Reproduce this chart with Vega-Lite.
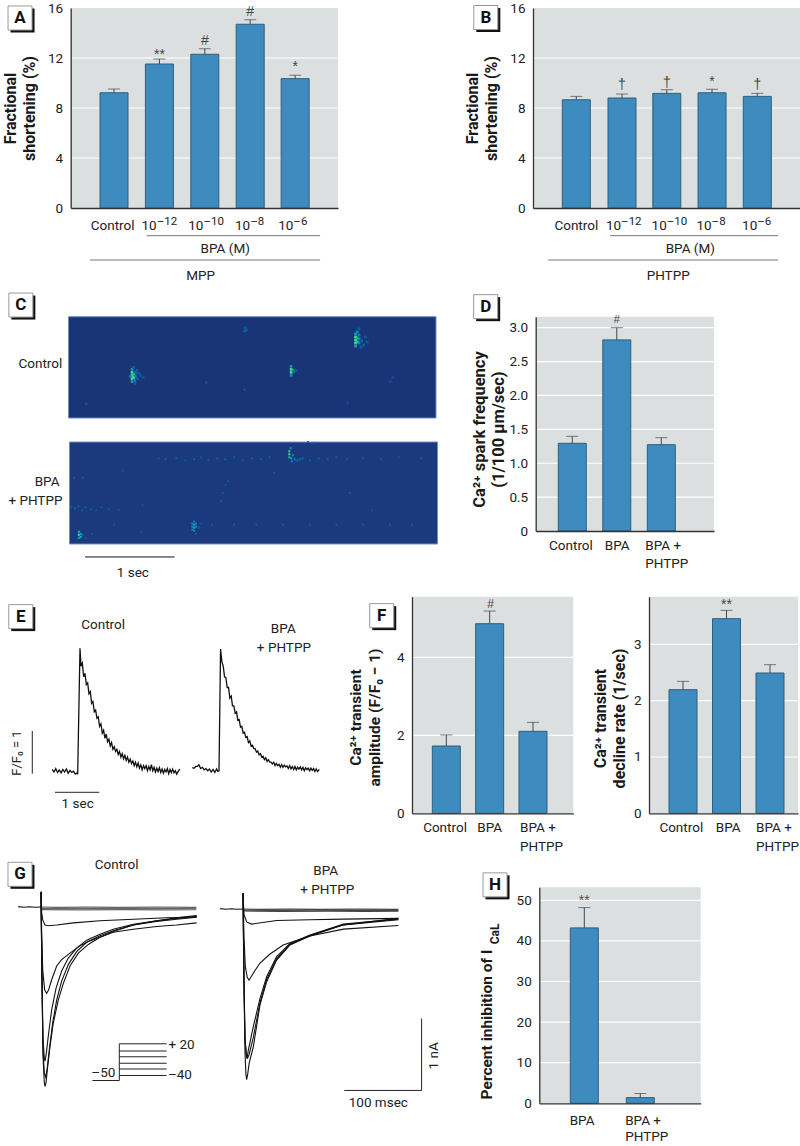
{"$schema":"https://vega.github.io/schema/vega-lite/v6.json","width":800,"height":1146,"padding":0,"autosize":"none","background":"white",
"config":{"view":{"stroke":null},"axis":{"grid":false,"ticks":false,"domainColor":"#333","domainWidth":1.3,"labelFont":"Roboto","labelFontSize":13.5,"labelColor":"#222","labelPadding":8,"titleFont":"Roboto","titleFontWeight":"bold","titleFontSize":16,"titleColor":"#1a1a1a","titleLineHeight":19,"titleAngle":270,"titleBaseline":"bottom","titleAlign":"center"},"text":{"font":"Roboto","fontSize":13.5,"color":"#222","baseline":"middle"}},
"resolve":{"scale":{"x":"independent","y":"independent","color":"independent"}},
"layer":[
{"encoding":{"x":{"field":"x","type":"quantitative","scale":{"domain":[0.046,5.934],"range":[70.7,338],"nice":false,"zero":false,"padding":0},"axis":{"orient":"bottom","offset":-938,"labels":false,"title":null,"zindex":1}},"y":{"field":"y","type":"quantitative","stack":null,"scale":{"domain":[0,16],"range":[208,8],"nice":false},"axis":{"orient":"left","offset":-70.7,"values":[0,4,8,12,16],"title":["Fractional","shortening (%)"],"titleX":-52.5,"titleY":108,"zindex":1}}},
"layer":[
{"data":{"values":[{"x":0.046,"x2":5.934,"y":0,"y2":16}]},"mark":{"type":"rect","fill":"#dcdfe0"},"encoding":{"x2":{"field":"x2"},"y2":{"field":"y2"}}},
{"data":{"values":[{"x":0.046,"x2":5.934,"y":4},{"x":0.046,"x2":5.934,"y":8},{"x":0.046,"x2":5.934,"y":12}]},"mark":{"type":"rule","color":"#fff","strokeWidth":1.2},"encoding":{"x2":{"field":"x2"}}},
{"data":{"values":[{"x":1,"y":9.22},{"x":2,"y":11.52},{"x":3,"y":12.3},{"x":4,"y":14.7},{"x":4.99,"y":10.35}]},"mark":{"type":"bar","size":28,"orient":"vertical","fill":"#3d8bbf","stroke":"#2f5f7c","strokeWidth":1}},
{"data":{"values":[{"x":1,"y":9.52,"y2":9.22},{"x":2,"y":11.92,"y2":11.52},{"x":3,"y":12.74,"y2":12.3},{"x":4,"y":15.06,"y2":14.7},{"x":4.99,"y":10.62,"y2":10.35}]},"layer":[{"mark":{"type":"rule","color":"#445","strokeWidth":1},"encoding":{"y2":{"field":"y2"}}},{"mark":{"type":"tick","orient":"horizontal","size":12,"thickness":1,"color":"#445"}}]},
{"data":{"values":[{"x":2,"y":12.4,"t":"**"},{"x":3,"y":13.5,"t":"#"},{"x":4,"y":15.8,"t":"#"},{"x":4.99,"y":11.4,"t":"*"}]},"mark":{"type":"text","font":"Liberation Sans","fontSize":14,"dy":1.5,"color":"#444"},"encoding":{"text":{"field":"t"}}},
{"data":{"values":[{"x":0.97,"y":-1.44,"t":"Control"},{"x":3.45,"y":-3.3,"t":"BPA (M)"},{"x":2.91,"y":-5.41,"t":"MPP"}]},"mark":{"type":"text"},"encoding":{"text":{"field":"t"}}},
{"data":{"values":[{"x":1.94,"y":-1.44,"t":"10"},{"x":2.97,"y":-1.44,"t":"10"},{"x":4.0,"y":-1.44,"t":"10"},{"x":4.95,"y":-1.44,"t":"10"}]},"mark":{"type":"text","align":"right"},"encoding":{"text":{"field":"t"}}},
{"data":{"values":[{"x":1.94,"y":-1.44,"t":"–12"},{"x":2.97,"y":-1.44,"t":"–10"},{"x":4.0,"y":-1.44,"t":"–8"},{"x":4.95,"y":-1.44,"t":"–6"}]},"mark":{"type":"text","align":"left","fontSize":11.5,"dy":-4},"encoding":{"text":{"field":"t"}}},
{"data":{"values":[{"x":1.72,"x2":5.54,"y":-2.216},{"x":0.47,"x2":5.54,"y":-4.16}]},"mark":{"type":"rule","color":"#777","strokeWidth":1},"encoding":{"x2":{"field":"x2"}}},
{"data":{"values":[{"x":-1.07,"y":15.2,"t":"A"}]},"layer":[{"mark":{"type":"point","shape":"square","size":576,"filled":true,"fill":"#111","opacity":1,"xOffset":2.5,"yOffset":2.5}},{"mark":{"type":"point","shape":"square","size":576,"filled":true,"fill":"#fff","stroke":"#999","strokeWidth":1,"opacity":1}},{"mark":{"type":"text","fontWeight":"bold","fontSize":17,"color":"#111"},"encoding":{"text":{"field":"t"}}}]}
]},
{"encoding":{"x":{"field":"x","type":"quantitative","scale":{"domain":[0.043,5.944],"range":[533,800],"nice":false,"zero":false,"padding":0},"axis":{"orient":"bottom","offset":-938,"labels":false,"title":null,"zindex":1}},"y":{"field":"y","type":"quantitative","stack":null,"scale":{"domain":[0,16],"range":[208,8],"nice":false},"axis":{"orient":"left","offset":-533,"values":[0,4,8,12,16],"title":["Fractional","shortening (%)"],"titleX":-52.5,"titleY":108,"zindex":1}}},
"layer":[
{"data":{"values":[{"x":0.043,"x2":5.944,"y":0,"y2":16}]},"mark":{"type":"rect","fill":"#dcdfe0"},"encoding":{"x2":{"field":"x2"},"y2":{"field":"y2"}}},
{"data":{"values":[{"x":0.043,"x2":5.944,"y":4},{"x":0.043,"x2":5.944,"y":8},{"x":0.043,"x2":5.944,"y":12}]},"mark":{"type":"rule","color":"#fff","strokeWidth":1.2},"encoding":{"x2":{"field":"x2"}}},
{"data":{"values":[{"x":1,"y":8.66},{"x":2.01,"y":8.8},{"x":3,"y":9.17},{"x":4,"y":9.22},{"x":5,"y":8.93}]},"mark":{"type":"bar","size":28,"orient":"vertical","fill":"#3d8bbf","stroke":"#2f5f7c","strokeWidth":1}},
{"data":{"values":[{"x":1,"y":8.93,"y2":8.66},{"x":2.01,"y":9.12,"y2":8.8},{"x":3,"y":9.46,"y2":9.17},{"x":4,"y":9.5,"y2":9.22},{"x":5,"y":9.17,"y2":8.93}]},"layer":[{"mark":{"type":"rule","color":"#445","strokeWidth":1},"encoding":{"y2":{"field":"y2"}}},{"mark":{"type":"tick","orient":"horizontal","size":12,"thickness":1,"color":"#445"}}]},
{"data":{"values":[{"x":2.01,"y":10,"t":"†"},{"x":3,"y":10.1,"t":"†"},{"x":4,"y":10.2,"t":"*"},{"x":5,"y":10,"t":"†"}]},"mark":{"type":"text","font":"Liberation Sans","fontSize":14,"dy":1.5,"color":"#444"},"encoding":{"text":{"field":"t"}}},
{"data":{"values":[{"x":1,"y":-1.44,"t":"Control"},{"x":3.52,"y":-3.3,"t":"BPA (M)"},{"x":3.03,"y":-5.41,"t":"PHTPP"}]},"mark":{"type":"text"},"encoding":{"text":{"field":"t"}}},
{"data":{"values":[{"x":1.99,"y":-1.44,"t":"10"},{"x":3.0,"y":-1.44,"t":"10"},{"x":3.99,"y":-1.44,"t":"10"},{"x":5.0,"y":-1.44,"t":"10"}]},"mark":{"type":"text","align":"right"},"encoding":{"text":{"field":"t"}}},
{"data":{"values":[{"x":1.99,"y":-1.44,"t":"–12"},{"x":3.0,"y":-1.44,"t":"–10"},{"x":3.99,"y":-1.44,"t":"–8"},{"x":5.0,"y":-1.44,"t":"–6"}]},"mark":{"type":"text","align":"left","fontSize":11.5,"dy":-4},"encoding":{"text":{"field":"t"}}},
{"data":{"values":[{"x":1.745,"x2":5.46,"y":-2.216},{"x":0.38,"x2":5.46,"y":-4.16}]},"mark":{"type":"rule","color":"#777","strokeWidth":1},"encoding":{"x2":{"field":"x2"}}},
{"data":{"values":[{"x":-1.0,"y":15.24,"t":"B"}]},"layer":[{"mark":{"type":"point","shape":"square","size":576,"filled":true,"fill":"#111","opacity":1,"xOffset":2.5,"yOffset":2.5}},{"mark":{"type":"point","shape":"square","size":576,"filled":true,"fill":"#fff","stroke":"#999","strokeWidth":1,"opacity":1}},{"mark":{"type":"text","fontWeight":"bold","fontSize":17,"color":"#111"},"encoding":{"text":{"field":"t"}}}]}
]},
{"encoding":{"x":{"field":"x","type":"quantitative","scale":{"domain":[0,4.135],"range":[68.5,436],"nice":false,"zero":false},"axis":null},"y":{"field":"y","type":"quantitative","stack":null,"scale":{"domain":[0,1],"range":[418,316.7],"nice":false},"axis":null}},
"layer":[
{"data":{"values":[{"x":0,"x2":4.135,"y":0,"y2":1}]},"mark":{"type":"rect","fill":"#1a3577","stroke":"#6f8fbf","strokeWidth":1},"encoding":{"x2":{"field":"x2"},"y2":{"field":"y2"}}},
{"data":{"values":[{"x":0.715,"y":0.36,"v":0.55},{"x":0.715,"y":0.39,"v":1},{"x":0.715,"y":0.42,"v":1},{"x":0.715,"y":0.45,"v":1},{"x":0.715,"y":0.48,"v":0.55},{"x":0.735,"y":0.4,"v":1},{"x":0.735,"y":0.43,"v":0.85},{"x":0.7,"y":0.41,"v":0.5},{"x":0.745,"y":0.37,"v":0.4},{"x":0.755,"y":0.41,"v":0.45},{"x":0.755,"y":0.45,"v":0.35},{"x":0.775,"y":0.39,"v":0.22},{"x":0.79,"y":0.44,"v":0.22},{"x":0.77,"y":0.47,"v":0.2},{"x":0.81,"y":0.42,"v":0.15},{"x":0.75,"y":0.34,"v":0.2},{"x":0.73,"y":0.5,"v":0.25},{"x":0.84,"y":0.4,"v":0.12},{"x":2.505,"y":0.42,"v":0.5},{"x":2.505,"y":0.45,"v":1},{"x":2.505,"y":0.48,"v":1},{"x":2.505,"y":0.51,"v":0.5},{"x":2.52,"y":0.47,"v":0.9},{"x":2.535,"y":0.46,"v":0.35},{"x":2.56,"y":0.47,"v":0.15},{"x":3.23,"y":0.71,"v":0.55},{"x":3.23,"y":0.74,"v":1},{"x":3.23,"y":0.77,"v":1},{"x":3.23,"y":0.8,"v":1},{"x":3.23,"y":0.83,"v":0.55},{"x":3.25,"y":0.75,"v":0.95},{"x":3.25,"y":0.79,"v":0.85},{"x":3.25,"y":0.85,"v":0.45},{"x":3.27,"y":0.74,"v":0.45},{"x":3.27,"y":0.78,"v":0.45},{"x":3.27,"y":0.82,"v":0.4},{"x":3.3,"y":0.76,"v":0.25},{"x":3.32,"y":0.72,"v":0.2},{"x":3.29,"y":0.7,"v":0.2},{"x":3.34,"y":0.8,"v":0.15},{"x":3.27,"y":0.88,"v":0.2},{"x":3.36,"y":0.75,"v":0.12},{"x":1.985,"y":0.86,"v":0.25},{"x":1.985,"y":0.89,"v":0.18},{"x":2.0,"y":0.87,"v":0.14},{"x":1.98,"y":0.28,"v":0.07},{"x":3.62,"y":0.36,"v":0.06},{"x":3.65,"y":0.4,"v":0.06},{"x":3.14,"y":0.15,"v":0.06},{"x":1.55,"y":0.35,"v":0.05},{"x":0.2,"y":0.14,"v":0.06}]},"mark":{"type":"point","shape":"square","filled":true,"size":7,"opacity":1},"encoding":{"color":{"field":"v","type":"quantitative","legend":null,"scale":{"domain":[0,0.6,1],"range":["#21438c","#2a9cc0","#4fdc7c"]}}}},
{"data":{"values":[{"x":-0.07,"y":0.534,"t":"Control"}]},"mark":{"type":"text","align":"right"},"encoding":{"text":{"field":"t"}}},
{"data":{"values":[{"x":-0.536,"y":1.115,"t":"C"}]},"layer":[{"mark":{"type":"point","shape":"square","size":576,"filled":true,"fill":"#111","opacity":1,"xOffset":2.5,"yOffset":2.5}},{"mark":{"type":"point","shape":"square","size":576,"filled":true,"fill":"#fff","stroke":"#999","strokeWidth":1,"opacity":1}},{"mark":{"type":"text","fontWeight":"bold","fontSize":17,"color":"#111"},"encoding":{"text":{"field":"t"}}}]}
]},
{"encoding":{"x":{"field":"x","type":"quantitative","scale":{"domain":[0,4.135],"range":[69.5,437.5],"nice":false,"zero":false},"axis":null},"y":{"field":"y","type":"quantitative","stack":null,"scale":{"domain":[0,1],"range":[544,442],"nice":false},"axis":null}},
"layer":[
{"data":{"values":[{"x":0,"x2":4.135,"y":0,"y2":1}]},"mark":{"type":"rect","fill":"#1b3a7e","stroke":"#6f8fbf","strokeWidth":1},"encoding":{"x2":{"field":"x2"},"y2":{"field":"y2"}}},
{"data":{"values":[{"x":0.02,"y":0.36,"v":0.2},{"x":0.06,"y":0.35,"v":0.25},{"x":0.1,"y":0.37,"v":0.2},{"x":0.14,"y":0.33,"v":0.18},{"x":0.18,"y":0.36,"v":0.2},{"x":0.24,"y":0.34,"v":0.18},{"x":0.3,"y":0.33,"v":0.15},{"x":0.36,"y":0.36,"v":0.14},{"x":0.44,"y":0.34,"v":0.14},{"x":0.55,"y":0.33,"v":0.12},{"x":0.82,"y":0.38,"v":0.15},{"x":1.0,"y":0.84,"v":0.18},{"x":1.08,"y":0.83,"v":0.22},{"x":1.2,"y":0.84,"v":0.18},{"x":1.3,"y":0.82,"v":0.18},{"x":1.4,"y":0.83,"v":0.22},{"x":1.48,"y":0.85,"v":0.18},{"x":1.56,"y":0.82,"v":0.18},{"x":1.66,"y":0.84,"v":0.22},{"x":1.75,"y":0.83,"v":0.25},{"x":1.85,"y":0.85,"v":0.22},{"x":1.95,"y":0.82,"v":0.22},{"x":2.05,"y":0.84,"v":0.25},{"x":2.15,"y":0.83,"v":0.22},{"x":2.25,"y":0.85,"v":0.22},{"x":2.62,"y":0.84,"v":0.3},{"x":2.7,"y":0.82,"v":0.25},{"x":2.8,"y":0.84,"v":0.22},{"x":2.9,"y":0.83,"v":0.22},{"x":3.0,"y":0.85,"v":0.18},{"x":3.12,"y":0.83,"v":0.18},{"x":3.3,"y":0.84,"v":0.16},{"x":3.5,"y":0.83,"v":0.15},{"x":3.7,"y":0.85,"v":0.15},{"x":3.95,"y":0.84,"v":0.16},{"x":1.75,"y":0.58,"v":0.15},{"x":1.72,"y":0.5,"v":0.13},{"x":1.78,"y":0.62,"v":0.13},{"x":1.7,"y":0.42,"v":0.13},{"x":1.6,"y":0.19,"v":0.15},{"x":1.85,"y":0.19,"v":0.18},{"x":2.1,"y":0.19,"v":0.15},{"x":2.4,"y":0.19,"v":0.17},{"x":2.7,"y":0.19,"v":0.18},{"x":3.0,"y":0.19,"v":0.17},{"x":3.3,"y":0.19,"v":0.17},{"x":3.6,"y":0.19,"v":0.18},{"x":3.85,"y":0.19,"v":0.18},{"x":0.25,"y":0.1,"v":0.13},{"x":0.5,"y":0.19,"v":0.1},{"x":0.8,"y":0.12,"v":0.12},{"x":3.15,"y":0.5,"v":0.1},{"x":3.4,"y":0.33,"v":0.1},{"x":2.3,"y":0.7,"v":0.12},{"x":0.6,"y":0.72,"v":0.1},{"x":0.05,"y":0.65,"v":0.15},{"x":0.15,"y":0.65,"v":0.15},{"x":2.68,"y":1.0,"v":0.25},{"x":2.73,"y":0.99,"v":0.2},{"x":0.105,"y":0.06,"v":0.7},{"x":0.105,"y":0.09,"v":1},{"x":0.105,"y":0.12,"v":0.85},{"x":0.125,"y":0.07,"v":0.85},{"x":0.125,"y":0.1,"v":0.75},{"x":0.145,"y":0.09,"v":0.3},{"x":0.18,"y":0.06,"v":0.18},{"x":1.38,"y":0.14,"v":0.45},{"x":1.38,"y":0.17,"v":0.5},{"x":1.38,"y":0.2,"v":0.45},{"x":1.4,"y":0.13,"v":0.45},{"x":1.4,"y":0.16,"v":0.6},{"x":1.4,"y":0.19,"v":0.6},{"x":1.4,"y":0.22,"v":0.4},{"x":1.42,"y":0.17,"v":0.5},{"x":1.42,"y":0.2,"v":0.5},{"x":1.45,"y":0.16,"v":0.25},{"x":1.42,"y":0.1,"v":0.25},{"x":1.48,"y":0.2,"v":0.18},{"x":2.47,"y":0.85,"v":0.85},{"x":2.47,"y":0.88,"v":1},{"x":2.47,"y":0.91,"v":0.95},{"x":2.485,"y":0.94,"v":0.55},{"x":2.49,"y":0.84,"v":0.65},{"x":2.51,"y":0.87,"v":0.45},{"x":2.5,"y":0.81,"v":0.4},{"x":2.53,"y":0.83,"v":0.4},{"x":2.56,"y":0.82,"v":0.3},{"x":2.59,"y":0.83,"v":0.25}]},"mark":{"type":"point","shape":"square","filled":true,"size":4,"opacity":1},"encoding":{"color":{"field":"v","type":"quantitative","legend":null,"scale":{"domain":[0,0.6,1],"range":["#21438c","#2a9cc0","#4fdc7c"]}}}},
{"data":{"values":[{"x":-0.112,"y":0.611,"t":"BPA"},{"x":-0.079,"y":0.425,"t":"+ PHTPP"}]},"mark":{"type":"text","align":"right"},"encoding":{"text":{"field":"t"}}},
{"data":{"values":[{"x":0.176,"x2":1.18,"y":-0.127}]},"mark":{"type":"rule","color":"#111","strokeWidth":1},"encoding":{"x2":{"field":"x2"}}},
{"data":{"values":[{"x":0.712,"y":-0.287,"t":"1 sec"}]},"mark":{"type":"text"},"encoding":{"text":{"field":"t"}}}
]},
{"encoding":{"x":{"field":"x","type":"quantitative","scale":{"domain":[0.178,4.184],"range":[535.7,714],"nice":false,"zero":false,"padding":0},"axis":{"orient":"bottom","offset":-615,"labels":false,"title":null,"zindex":1}},"y":{"field":"y","type":"quantitative","stack":null,"scale":{"domain":[0,3.162],"range":[531,316.7],"nice":false},"axis":{"orient":"left","offset":-535.7,"values":[0,0.5,1,1.5,2,2.5,3],"labelExpr":"datum.value==0?'0':format(datum.value,'.1f')","title":["Ca²⁺ spark frequency","(1/100 μm/sec)"],"titleFontSize":16.5,"titleX":-48,"titleY":429,"zindex":1}}},
"layer":[
{"data":{"values":[{"x":0.178,"x2":4.184,"y":0,"y2":3.162}]},"mark":{"type":"rect","fill":"#dcdfe0"},"encoding":{"x2":{"field":"x2"},"y2":{"field":"y2"}}},
{"data":{"values":[{"x":0.178,"x2":4.184,"y":0.5},{"x":0.178,"x2":4.184,"y":1},{"x":0.178,"x2":4.184,"y":1.5},{"x":0.178,"x2":4.184,"y":2},{"x":0.178,"x2":4.184,"y":2.5},{"x":0.178,"x2":4.184,"y":3}]},"mark":{"type":"rule","color":"#fff","strokeWidth":1.2},"encoding":{"x2":{"field":"x2"}}},
{"data":{"values":[{"x":1,"y":1.294},{"x":2,"y":2.82},{"x":3,"y":1.274}]},"mark":{"type":"bar","size":28,"orient":"vertical","fill":"#3d8bbf","stroke":"#2f5f7c","strokeWidth":1}},
{"data":{"values":[{"x":1,"y":1.397,"y2":1.294},{"x":2,"y":3.0,"y2":2.82},{"x":3,"y":1.377,"y2":1.274}]},"layer":[{"mark":{"type":"rule","color":"#445","strokeWidth":1},"encoding":{"y2":{"field":"y2"}}},{"mark":{"type":"tick","orient":"horizontal","size":12,"thickness":1,"color":"#445"}}]},
{"data":{"values":[{"x":2,"y":3.114,"t":"#"}]},"mark":{"type":"text","font":"Liberation Sans","fontSize":11,"color":"#444"},"encoding":{"text":{"field":"t"}}},
{"data":{"values":[{"x":0.97,"y":-0.217,"t":"Control"},{"x":2.01,"y":-0.217,"t":"BPA"}]},"mark":{"type":"text"},"encoding":{"text":{"field":"t"}}},
{"data":{"values":[{"x":2.64,"y":-0.217,"t":"BPA +"},{"x":2.64,"y":-0.492,"t":"PHTPP"}]},"mark":{"type":"text","align":"left"},"encoding":{"text":{"field":"t"}}},
{"data":{"values":[{"x":-0.946,"y":3.31,"t":"D"}]},"layer":[{"mark":{"type":"point","shape":"square","size":576,"filled":true,"fill":"#111","opacity":1,"xOffset":2.5,"yOffset":2.5}},{"mark":{"type":"point","shape":"square","size":576,"filled":true,"fill":"#fff","stroke":"#999","strokeWidth":1,"opacity":1}},{"mark":{"type":"text","fontWeight":"bold","fontSize":17,"color":"#111"},"encoding":{"text":{"field":"t"}}}]}
]},
{"encoding":{"x":{"field":"x","type":"quantitative","scale":{"domain":[0,2.935],"range":[50,180],"nice":false,"zero":false},"axis":null},"y":{"field":"y","type":"quantitative","stack":null,"scale":{"domain":[0,3.6],"range":[775,621.3],"nice":false},"axis":null}},
"layer":[
{"data":{"values":[{"x":0.05,"y":0.13},{"x":0.09,"y":0.07},{"x":0.13,"y":0.15},{"x":0.17,"y":0.06},{"x":0.21,"y":0.12},{"x":0.25,"y":0.05},{"x":0.29,"y":0.13},{"x":0.33,"y":0.07},{"x":0.37,"y":0.14},{"x":0.41,"y":0.04},{"x":0.45,"y":0.11},{"x":0.49,"y":0.06},{"x":0.53,"y":0.09},{"x":0.57,"y":0.02},{"x":0.61,"y":0.05},{"x":0.625,"y":0.02},{"x":0.677,"y":2.97},{"x":0.7,"y":2.55},{"x":0.73,"y":2.62},{"x":0.76,"y":2.3},{"x":0.79,"y":2.38},{"x":0.82,"y":2.12},{"x":0.85,"y":2.16},{"x":0.88,"y":1.9},{"x":0.91,"y":1.95},{"x":0.94,"y":1.68},{"x":0.97,"y":1.72},{"x":1.0,"y":1.48},{"x":1.03,"y":1.52},{"x":1.06,"y":1.33},{"x":1.09,"y":1.36},{"x":1.12,"y":1.14},{"x":1.15,"y":1.2},{"x":1.18,"y":0.98},{"x":1.21,"y":1.05},{"x":1.24,"y":0.86},{"x":1.27,"y":0.96},{"x":1.3,"y":0.78},{"x":1.33,"y":0.84},{"x":1.36,"y":0.68},{"x":1.39,"y":0.76},{"x":1.42,"y":0.6},{"x":1.45,"y":0.66},{"x":1.48,"y":0.55},{"x":1.51,"y":0.6},{"x":1.54,"y":0.48},{"x":1.57,"y":0.55},{"x":1.6,"y":0.42},{"x":1.63,"y":0.5},{"x":1.66,"y":0.38},{"x":1.69,"y":0.46},{"x":1.72,"y":0.34},{"x":1.75,"y":0.42},{"x":1.78,"y":0.3},{"x":1.81,"y":0.37},{"x":1.84,"y":0.27},{"x":1.87,"y":0.33},{"x":1.9,"y":0.22},{"x":1.93,"y":0.3},{"x":1.96,"y":0.19},{"x":1.99,"y":0.28},{"x":2.02,"y":0.16},{"x":2.05,"y":0.24},{"x":2.08,"y":0.12},{"x":2.11,"y":0.22},{"x":2.14,"y":0.15},{"x":2.17,"y":0.22},{"x":2.2,"y":0.1},{"x":2.23,"y":0.2},{"x":2.26,"y":0.12},{"x":2.29,"y":0.24},{"x":2.32,"y":0.1},{"x":2.35,"y":0.18},{"x":2.38,"y":0.07},{"x":2.41,"y":0.16},{"x":2.44,"y":0.08},{"x":2.47,"y":0.17},{"x":2.5,"y":0.06},{"x":2.53,"y":0.14},{"x":2.56,"y":0.04},{"x":2.59,"y":0.13},{"x":2.62,"y":0.07},{"x":2.65,"y":0.15},{"x":2.68,"y":0.03},{"x":2.71,"y":0.13},{"x":2.74,"y":0.06},{"x":2.77,"y":0.14},{"x":2.8,"y":0.05},{"x":2.83,"y":0.1},{"x":2.86,"y":0.02},{"x":2.89,"y":0.08},{"x":2.93,"y":0.14}]},"mark":{"type":"line","color":"#111","strokeWidth":1.3}},
{"data":{"values":[{"x":-0.4,"y":0.03,"y2":1.03}]},"mark":{"type":"rule","color":"#222","strokeWidth":1},"encoding":{"y2":{"field":"y2"}}},
{"data":{"values":[{"x":0.113,"x2":1.113,"y":-0.405}]},"mark":{"type":"rule","color":"#222","strokeWidth":1},"encoding":{"x2":{"field":"x2"}}},
{"data":{"values":[{"x":0.625,"y":-0.686,"t":"1 sec"},{"x":1.2,"y":3.52,"t":"Control"}]},"mark":{"type":"text"},"encoding":{"text":{"field":"t"}}},
{"data":{"values":[{"x":-0.75,"y":0.515,"t":"F/F₀ = 1"}]},"mark":{"type":"text","angle":270,"fontSize":13},"encoding":{"text":{"field":"t"}}},
{"data":{"values":[{"x":-0.66,"y":3.71,"t":"E"}]},"layer":[{"mark":{"type":"point","shape":"square","size":576,"filled":true,"fill":"#111","opacity":1,"xOffset":2.5,"yOffset":2.5}},{"mark":{"type":"point","shape":"square","size":576,"filled":true,"fill":"#fff","stroke":"#999","strokeWidth":1,"opacity":1}},{"mark":{"type":"text","fontWeight":"bold","fontSize":17,"color":"#111"},"encoding":{"text":{"field":"t"}}}]}
]},
{"encoding":{"x":{"field":"x","type":"quantitative","scale":{"domain":[0,2.935],"range":[190,320],"nice":false,"zero":false},"axis":null},"y":{"field":"y","type":"quantitative","stack":null,"scale":{"domain":[0,3.6],"range":[775,621.3],"nice":false},"axis":null}},
"layer":[
{"data":{"values":[{"x":0.05,"y":0.17},{"x":0.09,"y":0.16},{"x":0.13,"y":0.2},{"x":0.17,"y":0.2},{"x":0.2,"y":0.24},{"x":0.24,"y":0.15},{"x":0.28,"y":0.18},{"x":0.32,"y":0.12},{"x":0.36,"y":0.15},{"x":0.4,"y":0.1},{"x":0.44,"y":0.14},{"x":0.48,"y":0.07},{"x":0.52,"y":0.13},{"x":0.56,"y":0.06},{"x":0.6,"y":0.14},{"x":0.63,"y":0.08},{"x":0.655,"y":0.1},{"x":0.69,"y":2.95},{"x":0.72,"y":2.65},{"x":0.75,"y":2.55},{"x":0.78,"y":2.3},{"x":0.81,"y":2.28},{"x":0.84,"y":2.05},{"x":0.87,"y":2.05},{"x":0.9,"y":1.8},{"x":0.93,"y":1.85},{"x":0.96,"y":1.62},{"x":0.99,"y":1.62},{"x":1.02,"y":1.45},{"x":1.05,"y":1.48},{"x":1.08,"y":1.28},{"x":1.11,"y":1.3},{"x":1.14,"y":1.12},{"x":1.17,"y":1.14},{"x":1.2,"y":0.98},{"x":1.23,"y":1.0},{"x":1.26,"y":0.88},{"x":1.29,"y":0.9},{"x":1.32,"y":0.76},{"x":1.35,"y":0.8},{"x":1.38,"y":0.68},{"x":1.41,"y":0.7},{"x":1.44,"y":0.62},{"x":1.47,"y":0.62},{"x":1.5,"y":0.54},{"x":1.53,"y":0.56},{"x":1.56,"y":0.47},{"x":1.59,"y":0.5},{"x":1.62,"y":0.42},{"x":1.65,"y":0.44},{"x":1.68,"y":0.36},{"x":1.71,"y":0.4},{"x":1.74,"y":0.32},{"x":1.77,"y":0.36},{"x":1.8,"y":0.3},{"x":1.83,"y":0.3},{"x":1.86,"y":0.26},{"x":1.89,"y":0.3},{"x":1.92,"y":0.22},{"x":1.95,"y":0.27},{"x":1.98,"y":0.22},{"x":2.01,"y":0.25},{"x":2.04,"y":0.18},{"x":2.07,"y":0.24},{"x":2.1,"y":0.18},{"x":2.13,"y":0.23},{"x":2.16,"y":0.19},{"x":2.19,"y":0.21},{"x":2.22,"y":0.15},{"x":2.25,"y":0.22},{"x":2.28,"y":0.14},{"x":2.31,"y":0.2},{"x":2.34,"y":0.13},{"x":2.37,"y":0.2},{"x":2.4,"y":0.12},{"x":2.43,"y":0.18},{"x":2.46,"y":0.14},{"x":2.49,"y":0.19},{"x":2.52,"y":0.12},{"x":2.55,"y":0.18},{"x":2.58,"y":0.1},{"x":2.61,"y":0.17},{"x":2.64,"y":0.13},{"x":2.67,"y":0.16},{"x":2.7,"y":0.1},{"x":2.73,"y":0.16},{"x":2.76,"y":0.11},{"x":2.79,"y":0.15},{"x":2.82,"y":0.08},{"x":2.85,"y":0.14},{"x":2.88,"y":0.08},{"x":2.92,"y":0.13}]},"mark":{"type":"line","color":"#111","strokeWidth":1.3}},
{"data":{"values":[{"x":2.106,"y":3.41,"t":"BPA"},{"x":2.12,"y":2.97,"t":"+ PHTPP"}]},"mark":{"type":"text"},"encoding":{"text":{"field":"t"}}}
]},
{"encoding":{"x":{"field":"x","type":"quantitative","scale":{"domain":[0.208,3.93],"range":[412,573.3],"nice":false,"zero":false,"padding":0},"axis":{"orient":"bottom","offset":-332.7,"labels":false,"title":null,"zindex":1}},"y":{"field":"y","type":"quantitative","stack":null,"scale":{"domain":[0,5.556],"range":[813.3,596.7],"nice":false},"axis":{"orient":"left","offset":-412,"values":[0,2,4],"title":["Ca²⁺ transient","amplitude (F/F₀ − 1)"],"titleFontSize":15.5,"titleX":-49,"titleY":717,"zindex":1}}},
"layer":[
{"data":{"values":[{"x":0.208,"x2":3.93,"y":0,"y2":5.556}]},"mark":{"type":"rect","fill":"#dcdfe0"},"encoding":{"x2":{"field":"x2"},"y2":{"field":"y2"}}},
{"data":{"values":[{"x":0.208,"x2":3.93,"y":2},{"x":0.208,"x2":3.93,"y":4}]},"mark":{"type":"rule","color":"#fff","strokeWidth":1.2},"encoding":{"x2":{"field":"x2"}}},
{"data":{"values":[{"x":1,"y":1.726},{"x":2,"y":4.863},{"x":3,"y":2.103}]},"mark":{"type":"bar","size":28,"orient":"vertical","fill":"#3d8bbf","stroke":"#2f5f7c","strokeWidth":1}},
{"data":{"values":[{"x":1,"y":2.009,"y2":1.726},{"x":2,"y":5.188,"y2":4.863},{"x":3,"y":2.333,"y2":2.103}]},"layer":[{"mark":{"type":"rule","color":"#445","strokeWidth":1},"encoding":{"y2":{"field":"y2"}}},{"mark":{"type":"tick","orient":"horizontal","size":12,"thickness":1,"color":"#445"}}]},
{"data":{"values":[{"x":2.02,"y":5.36,"t":"#"}]},"mark":{"type":"text","font":"Liberation Sans","fontSize":12,"color":"#444"},"encoding":{"text":{"field":"t"}}},
{"data":{"values":[{"x":0.97,"y":-0.385,"t":"Control"},{"x":2,"y":-0.385,"t":"BPA"}]},"mark":{"type":"text"},"encoding":{"text":{"field":"t"}}},
{"data":{"values":[{"x":2.7,"y":-0.385,"t":"BPA +"},{"x":2.7,"y":-0.872,"t":"PHTPP"}]},"mark":{"type":"text","align":"left"},"encoding":{"text":{"field":"t"}}},
{"data":{"values":[{"x":-0.49,"y":5.07,"t":"F"}]},"layer":[{"mark":{"type":"point","shape":"square","size":576,"filled":true,"fill":"#111","opacity":1,"xOffset":2.5,"yOffset":2.5}},{"mark":{"type":"point","shape":"square","size":576,"filled":true,"fill":"#fff","stroke":"#999","strokeWidth":1,"opacity":1}},{"mark":{"type":"text","fontWeight":"bold","fontSize":17,"color":"#111"},"encoding":{"text":{"field":"t"}}}]}
]},
{"encoding":{"x":{"field":"x","type":"quantitative","scale":{"domain":[0.218,3.644],"range":[649,798],"nice":false,"zero":false,"padding":0},"axis":{"orient":"bottom","offset":-332.7,"labels":false,"title":null,"zindex":1}},"y":{"field":"y","type":"quantitative","stack":null,"scale":{"domain":[0,3.846],"range":[813.3,596.7],"nice":false},"axis":{"orient":"left","offset":-649,"values":[0,1,2,3],"title":["Ca²⁺ transient","decline rate (1/sec)"],"titleX":-41,"titleY":718,"zindex":1}}},
"layer":[
{"data":{"values":[{"x":0.218,"x2":3.644,"y":0,"y2":3.846}]},"mark":{"type":"rect","fill":"#dcdfe0"},"encoding":{"x2":{"field":"x2"},"y2":{"field":"y2"}}},
{"data":{"values":[{"x":0.218,"x2":3.644,"y":1},{"x":0.218,"x2":3.644,"y":2},{"x":0.218,"x2":3.644,"y":3}]},"mark":{"type":"rule","color":"#fff","strokeWidth":1.2},"encoding":{"x2":{"field":"x2"}}},
{"data":{"values":[{"x":1,"y":2.195},{"x":2,"y":3.456},{"x":3,"y":2.491}]},"mark":{"type":"bar","size":28,"orient":"vertical","fill":"#3d8bbf","stroke":"#2f5f7c","strokeWidth":1}},
{"data":{"values":[{"x":1,"y":2.343,"y2":2.195},{"x":2,"y":3.604,"y2":3.456},{"x":3,"y":2.639,"y2":2.491}]},"layer":[{"mark":{"type":"rule","color":"#445","strokeWidth":1},"encoding":{"y2":{"field":"y2"}}},{"mark":{"type":"tick","orient":"horizontal","size":12,"thickness":1,"color":"#445"}}]},
{"data":{"values":[{"x":2,"y":3.728,"t":"**"}]},"mark":{"type":"text","font":"Liberation Sans","fontSize":14,"dy":1.5,"color":"#444"},"encoding":{"text":{"field":"t"}}},
{"data":{"values":[{"x":0.96,"y":-0.266,"t":"Control"},{"x":2.04,"y":-0.266,"t":"BPA"}]},"mark":{"type":"text"},"encoding":{"text":{"field":"t"}}},
{"data":{"values":[{"x":2.68,"y":-0.266,"t":"BPA +"},{"x":2.68,"y":-0.604,"t":"PHTPP"}]},"mark":{"type":"text","align":"left"},"encoding":{"text":{"field":"t"}}}
]},
{"encoding":{"x":{"field":"x","type":"quantitative","scale":{"domain":[-29.75,201.8],"range":[18,197],"nice":false,"zero":false},"axis":null},"y":{"field":"y","type":"quantitative","stack":null,"scale":{"domain":[-2.8,0.3],"range":[1108.6,885.4],"nice":false},"axis":null}},
"layer":[
{"data":{"values":[{"s":"a","x":0,"y":0.0},{"s":"a","x":20,"y":-0.005},{"s":"a","x":60,"y":-0.002},{"s":"a","x":100,"y":-0.006},{"s":"a","x":150,"y":-0.003},{"s":"a","x":201,"y":-0.006},{"s":"b","x":0,"y":-0.018},{"s":"b","x":40,"y":-0.022},{"s":"b","x":90,"y":-0.019},{"s":"b","x":140,"y":-0.023},{"s":"b","x":201,"y":-0.021},{"s":"c","x":0,"y":-0.036},{"s":"c","x":50,"y":-0.04},{"s":"c","x":110,"y":-0.037},{"s":"c","x":160,"y":-0.041},{"s":"c","x":201,"y":-0.038}]},"mark":{"type":"line","color":"#666","strokeWidth":1.2},"encoding":{"detail":{"field":"s"}}},
{"data":{"values":[{"s":"P","x":-29.5,"y":0.005},{"s":"P","x":-22,"y":-0.003},{"s":"P","x":-15,"y":0.004},{"s":"P","x":-8,"y":-0.003},{"s":"P","x":0,"y":0.0},{"s":"T1","x":0,"y":0.21},{"s":"T1","x":0.9,"y":-0.08},{"s":"T1","x":2.2,"y":-0.18},{"s":"T1","x":5.2,"y":-0.25},{"s":"T1","x":9.5,"y":-0.26},{"s":"T1","x":20.3,"y":-0.25},{"s":"T1","x":41.8,"y":-0.22},{"s":"T1","x":76.3,"y":-0.19},{"s":"T1","x":119.4,"y":-0.17},{"s":"T1","x":162.5,"y":-0.15},{"s":"T1","x":201.3,"y":-0.14},
{"s":"T2","x":0,"y":0.21},{"s":"T2","x":0.9,"y":-0.36},{"s":"T2","x":2.2,"y":-0.87},{"s":"T2","x":4.7,"y":-1.15},{"s":"T2","x":7.3,"y":-1.2},{"s":"T2","x":9.9,"y":-1.15},{"s":"T2","x":13.8,"y":-1.01},{"s":"T2","x":20.3,"y":-0.82},{"s":"T2","x":26.7,"y":-0.73},{"s":"T2","x":37.5,"y":-0.64},{"s":"T2","x":50.4,"y":-0.54},{"s":"T2","x":61.2,"y":-0.48},{"s":"T2","x":76.3,"y":-0.42},{"s":"T2","x":93.5,"y":-0.35},{"s":"T2","x":119.4,"y":-0.31},{"s":"T2","x":149.6,"y":-0.27},{"s":"T2","x":175.4,"y":-0.25},{"s":"T2","x":201.3,"y":-0.22},
{"s":"T3","x":0,"y":0.21},{"s":"T3","x":1.3,"y":-0.96},{"s":"T3","x":2.6,"y":-1.84},{"s":"T3","x":4.3,"y":-2.1},{"s":"T3","x":5.2,"y":-2.14},{"s":"T3","x":6.9,"y":-2.03},{"s":"T3","x":9.9,"y":-1.75},{"s":"T3","x":13.8,"y":-1.43},{"s":"T3","x":19.4,"y":-1.13},{"s":"T3","x":26.7,"y":-0.89},{"s":"T3","x":35.3,"y":-0.71},{"s":"T3","x":46.1,"y":-0.57},{"s":"T3","x":59,"y":-0.46},{"s":"T3","x":76.3,"y":-0.38},{"s":"T3","x":93.5,"y":-0.31},{"s":"T3","x":119.4,"y":-0.24},{"s":"T3","x":149.6,"y":-0.19},{"s":"T3","x":175.4,"y":-0.15},{"s":"T3","x":201.3,"y":-0.12},
{"s":"T4","x":0,"y":0.21},{"s":"T4","x":1.3,"y":-1.06},{"s":"T4","x":2.6,"y":-1.98},{"s":"T4","x":4.3,"y":-2.31},{"s":"T4","x":6,"y":-2.36},{"s":"T4","x":7.8,"y":-2.26},{"s":"T4","x":10.8,"y":-1.98},{"s":"T4","x":15.1,"y":-1.61},{"s":"T4","x":20.3,"y":-1.29},{"s":"T4","x":26.7,"y":-1.03},{"s":"T4","x":35.3,"y":-0.8},{"s":"T4","x":46.1,"y":-0.62},{"s":"T4","x":59,"y":-0.49},{"s":"T4","x":76.3,"y":-0.4},{"s":"T4","x":93.5,"y":-0.33},{"s":"T4","x":119.4,"y":-0.25},{"s":"T4","x":149.6,"y":-0.19},{"s":"T4","x":175.4,"y":-0.16},{"s":"T4","x":201.3,"y":-0.13},
{"s":"T5","x":0,"y":0.21},{"s":"T5","x":1.3,"y":-1.06},{"s":"T5","x":2.6,"y":-2.07},{"s":"T5","x":4.3,"y":-2.44},{"s":"T5","x":5.2,"y":-2.49},{"s":"T5","x":6.5,"y":-2.44},{"s":"T5","x":8.2,"y":-2.26},{"s":"T5","x":11.6,"y":-1.94},{"s":"T5","x":15.9,"y":-1.61},{"s":"T5","x":22.4,"y":-1.29},{"s":"T5","x":28.9,"y":-1.06},{"s":"T5","x":37.5,"y":-0.82},{"s":"T5","x":48.3,"y":-0.64},{"s":"T5","x":61.2,"y":-0.52},{"s":"T5","x":76.3,"y":-0.42},{"s":"T5","x":93.5,"y":-0.34},{"s":"T5","x":119.4,"y":-0.25},{"s":"T5","x":149.6,"y":-0.2},{"s":"T5","x":175.4,"y":-0.17},{"s":"T5","x":201.3,"y":-0.14}]},"mark":{"type":"line","color":"#111","strokeWidth":1.1},"encoding":{"detail":{"field":"s"}}},
{"data":{"values":[{"x":101.3,"x2":162.5,"y":-1.9},{"x":101.3,"x2":162.5,"y":-2.0},{"x":101.3,"x2":162.5,"y":-2.08},{"x":101.3,"x2":162.5,"y":-2.17},{"x":101.3,"x2":162.5,"y":-2.25},{"x":101.3,"x2":162.5,"y":-2.34},{"x":66.4,"x2":101.3,"y":-2.41}]},"mark":{"type":"rule","color":"#222","strokeWidth":1},"encoding":{"x2":{"field":"x2"}}},
{"data":{"values":[{"x":101.3,"y":-1.9,"y2":-2.41}]},"mark":{"type":"rule","color":"#222","strokeWidth":1},"encoding":{"y2":{"field":"y2"}}},
{"data":{"values":[{"x":97.8,"y":0.58,"t":"Control"},{"x":80.6,"y":-2.31,"t":"–50"},{"x":181.9,"y":-1.91,"t":"+ 20"},{"x":179.7,"y":-2.34,"t":"–40"}]},"mark":{"type":"text"},"encoding":{"text":{"field":"t"}}},
{"data":{"values":[{"x":-27.2,"y":0.454,"t":"G"}]},"layer":[{"mark":{"type":"point","shape":"square","size":576,"filled":true,"fill":"#111","opacity":1,"xOffset":2.5,"yOffset":2.5}},{"mark":{"type":"point","shape":"square","size":576,"filled":true,"fill":"#fff","stroke":"#999","strokeWidth":1,"opacity":1}},{"mark":{"type":"text","fontWeight":"bold","fontSize":17,"color":"#111"},"encoding":{"text":{"field":"t"}}}]}
]},
{"encoding":{"x":{"field":"x","type":"quantitative","scale":{"domain":[-29.75,201],"range":[220,398.4],"nice":false,"zero":false},"axis":null},"y":{"field":"y","type":"quantitative","stack":null,"scale":{"domain":[-2.8,0.3],"range":[1110.6,887.4],"nice":false},"axis":null}},
"layer":[
{"data":{"values":[{"s":"a","x":0,"y":0.0},{"s":"a","x":20,"y":-0.005},{"s":"a","x":60,"y":-0.002},{"s":"a","x":100,"y":-0.006},{"s":"a","x":150,"y":-0.003},{"s":"a","x":201,"y":-0.006},{"s":"b","x":0,"y":-0.015},{"s":"b","x":40,"y":-0.019},{"s":"b","x":90,"y":-0.016},{"s":"b","x":140,"y":-0.02},{"s":"b","x":201,"y":-0.018},{"s":"c","x":0,"y":-0.028},{"s":"c","x":50,"y":-0.032},{"s":"c","x":110,"y":-0.029},{"s":"c","x":160,"y":-0.033},{"s":"c","x":201,"y":-0.03}]},"mark":{"type":"line","color":"#444","strokeWidth":1.2},"encoding":{"detail":{"field":"s"}}},
{"data":{"values":[{"s":"P","x":-29.5,"y":0.005},{"s":"P","x":-22,"y":-0.003},{"s":"P","x":-15,"y":0.004},{"s":"P","x":-8,"y":-0.003},{"s":"P","x":0,"y":0.0},{"s":"T1","x":0,"y":0.22},{"s":"T1","x":1.3,"y":-0.08},{"s":"T1","x":4.7,"y":-0.18},{"s":"T1","x":11,"y":-0.21},{"s":"T1","x":43.5,"y":-0.16},{"s":"T1","x":86.6,"y":-0.15},{"s":"T1","x":130,"y":-0.14},{"s":"T1","x":201,"y":-0.13},
{"s":"T2","x":0,"y":0.22},{"s":"T2","x":1.3,"y":-0.4},{"s":"T2","x":3,"y":-0.8},{"s":"T2","x":5.5,"y":-0.95},{"s":"T2","x":7.8,"y":-0.99},{"s":"T2","x":13.4,"y":-0.89},{"s":"T2","x":22,"y":-0.75},{"s":"T2","x":35,"y":-0.625},{"s":"T2","x":52,"y":-0.5},{"s":"T2","x":74,"y":-0.42},{"s":"T2","x":86.6,"y":-0.375},{"s":"T2","x":130,"y":-0.28},{"s":"T2","x":201,"y":-0.23},
{"s":"T3","x":0,"y":0.22},{"s":"T3","x":1.3,"y":-1.0},{"s":"T3","x":2.6,"y":-1.8},{"s":"T3","x":4.3,"y":-2.03},{"s":"T3","x":5.2,"y":-2.08},{"s":"T3","x":6.9,"y":-1.96},{"s":"T3","x":13.4,"y":-1.63},{"s":"T3","x":22,"y":-1.24},{"s":"T3","x":30.6,"y":-0.94},{"s":"T3","x":43.5,"y":-0.66},{"s":"T3","x":60.8,"y":-0.48},{"s":"T3","x":86.6,"y":-0.36},{"s":"T3","x":130,"y":-0.21},{"s":"T3","x":201,"y":-0.14},
{"s":"T4","x":0,"y":0.22},{"s":"T4","x":1.3,"y":-1.0},{"s":"T4","x":2.6,"y":-1.82},{"s":"T4","x":4.5,"y":-2.04},{"s":"T4","x":6,"y":-2.07},{"s":"T4","x":8,"y":-2.02},{"s":"T4","x":13.4,"y":-1.78},{"s":"T4","x":22,"y":-1.3},{"s":"T4","x":30.6,"y":-0.98},{"s":"T4","x":43.5,"y":-0.69},{"s":"T4","x":60.8,"y":-0.49},{"s":"T4","x":86.6,"y":-0.37},{"s":"T4","x":130,"y":-0.22},{"s":"T4","x":201,"y":-0.15},
{"s":"T5","x":0,"y":0.22},{"s":"T5","x":1.3,"y":-1.1},{"s":"T5","x":2.6,"y":-2.0},{"s":"T5","x":3.8,"y":-2.3},{"s":"T5","x":4.7,"y":-2.37},{"s":"T5","x":6,"y":-2.3},{"s":"T5","x":8,"y":-2.14},{"s":"T5","x":13.4,"y":-1.91},{"s":"T5","x":22,"y":-1.33},{"s":"T5","x":30.6,"y":-1.01},{"s":"T5","x":43.5,"y":-0.71},{"s":"T5","x":60.8,"y":-0.5},{"s":"T5","x":86.6,"y":-0.375},{"s":"T5","x":130,"y":-0.22},{"s":"T5","x":201,"y":-0.13}]},"mark":{"type":"line","color":"#111","strokeWidth":1.1},"encoding":{"detail":{"field":"s"}}},
{"data":{"values":[{"x":131,"x2":231,"y":-2.52}]},"mark":{"type":"rule","color":"#222","strokeWidth":1},"encoding":{"x2":{"field":"x2"}}},
{"data":{"values":[{"x":231,"y":-1.52,"y2":-2.52}]},"mark":{"type":"rule","color":"#222","strokeWidth":1},"encoding":{"y2":{"field":"y2"}}},
{"data":{"values":[{"x":107,"y":0.53,"t":"BPA"},{"x":109,"y":0.27,"t":"+ PHTPP"},{"x":175,"y":-2.7,"t":"100 msec"}]},"mark":{"type":"text"},"encoding":{"text":{"field":"t"}}},
{"data":{"values":[{"x":247,"y":-2.04,"t":"1 nA"}]},"mark":{"type":"text","angle":270},"encoding":{"text":{"field":"t"}}}
]},
{"encoding":{"x":{"field":"x","type":"quantitative","scale":{"domain":[0.196,3.079],"range":[539.3,700.7],"nice":false,"zero":false,"padding":0},"axis":{"orient":"bottom","offset":-42.7,"labels":false,"title":null,"zindex":1}},"y":{"field":"y","type":"quantitative","stack":null,"scale":{"domain":[0,53.2],"range":[1103.3,887.3],"nice":false},"axis":{"orient":"left","offset":-539.3,"values":[0,10,20,30,40,50],"title":"Percent inhibition of I","titleFontSize":15.5,"titleX":-45,"titleY":1024,"zindex":1}}},
"layer":[
{"data":{"values":[{"x":0.196,"x2":3.079,"y":0,"y2":53.2}]},"mark":{"type":"rect","fill":"#dcdfe0"},"encoding":{"x2":{"field":"x2"},"y2":{"field":"y2"}}},
{"data":{"values":[{"x":0.196,"x2":3.079,"y":10},{"x":0.196,"x2":3.079,"y":20},{"x":0.196,"x2":3.079,"y":30},{"x":0.196,"x2":3.079,"y":40},{"x":0.196,"x2":3.079,"y":50}]},"mark":{"type":"rule","color":"#fff","strokeWidth":1.2},"encoding":{"x2":{"field":"x2"}}},
{"data":{"values":[{"x":1,"y":43.2},{"x":2,"y":1.4}]},"mark":{"type":"bar","size":28,"orient":"vertical","fill":"#3d8bbf","stroke":"#2f5f7c","strokeWidth":1}},
{"data":{"values":[{"x":1,"y":48.2,"y2":43.2},{"x":2,"y":2.4,"y2":1.4}]},"layer":[{"mark":{"type":"rule","color":"#445","strokeWidth":1},"encoding":{"y2":{"field":"y2"}}},{"mark":{"type":"tick","orient":"horizontal","size":12,"thickness":1,"color":"#445"}}]},
{"data":{"values":[{"x":1,"y":50.1,"t":"**"}]},"mark":{"type":"text","font":"Liberation Sans","fontSize":14,"dy":1.5,"color":"#555"},"encoding":{"text":{"field":"t"}}},
{"data":{"values":[{"x":0.96,"y":-4.27,"t":"BPA"}]},"mark":{"type":"text"},"encoding":{"text":{"field":"t"}}},
{"data":{"values":[{"x":1.73,"y":-4.27,"t":"BPA +"},{"x":1.73,"y":-8.2,"t":"PHTPP"}]},"mark":{"type":"text","align":"left"},"encoding":{"text":{"field":"t"}}},
{"data":{"values":[{"x":-0.595,"y":41.7,"t":"CaL"}]},"mark":{"type":"text","angle":270,"fontWeight":"bold","fontSize":12,"color":"#1a1a1a"},"encoding":{"text":{"field":"t"}}},
{"data":{"values":[{"x":-0.595,"y":53.8,"t":"H"}]},"layer":[{"mark":{"type":"point","shape":"square","size":576,"filled":true,"fill":"#111","opacity":1,"xOffset":2.5,"yOffset":2.5}},{"mark":{"type":"point","shape":"square","size":576,"filled":true,"fill":"#fff","stroke":"#999","strokeWidth":1,"opacity":1}},{"mark":{"type":"text","fontWeight":"bold","fontSize":17,"color":"#111"},"encoding":{"text":{"field":"t"}}}]}
]}
]}
